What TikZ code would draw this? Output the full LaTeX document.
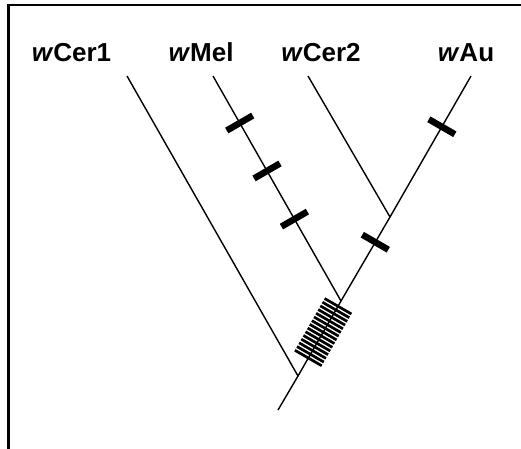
\documentclass[tikz,border=0pt]{standalone}
\usepackage{fontspec}
\setmainfont{Liberation Sans}
\tikzset{
  branch/.style={draw=black, line width=1.4pt},
  taxon/.style={font=\fontsize{26}{31}\selectfont\bfseries, anchor=base, inner sep=0pt},
  tickmark/.style={rectangle, fill=black, inner sep=0pt, minimum width=30pt, minimum height=6.5pt},
  hatchmark/.style={rectangle, fill=black, inner sep=0pt, minimum width=31pt, minimum height=2.7pt}
}
\begin{document}
\begin{tikzpicture}[x=1pt, y=-1pt]
  \useasboundingbox (0,0) rectangle (521,448);
  \clip (0,0) rectangle (521,448);
  \draw[line width=2.2pt] (8.5,470) -- (8.5,5) -- (540,5);
  % tips and joints
  \coordinate (root) at (278,410);
  \coordinate (j1) at (298,376);
  \coordinate (j2) at (341,301);
  \coordinate (j3) at (390,217);
  \coordinate (cer1) at (127,76);
  \coordinate (mel) at (213,76);
  \coordinate (cer2) at (308,76);
  \coordinate (au) at (471,76);
  % labels
  \node[taxon] (lcer1) at (71.5,61) {\textit{w}Cer1};
  \node[taxon] (lmel) at (201,61) {\textit{w}Mel};
  \node[taxon] (lcer2) at (321,61) {\textit{w}Cer2};
  \node[taxon] (lau) at (466,61) {\textit{w}Au};
  % tree
  \draw[branch] (root) -- (j1) -- (j2) -- (j3) -- (au);
  \draw[branch] (j1) -- (cer1);
  \draw[branch] (j2) -- (mel);
  \draw[branch] (j3) -- (cer2);
  % marks
  \foreach \p in {0.209,0.422,0.636}
    \path (mel) -- (j2) node[tickmark, rotate=30, pos=\p] {};
  \path (j2) -- (j3) node[tickmark, rotate=-30, pos=0.70] {};
  \path (j3) -- (au) node[tickmark, rotate=-30, pos=0.64] {};
  \foreach \i in {0,...,14} {
    \pgfmathsetmacro{\p}{0.24+0.0493*\i}
    \path (j1) -- (j2) node[hatchmark, rotate=-30, pos=\p] {};
  }
\end{tikzpicture}
\end{document}
